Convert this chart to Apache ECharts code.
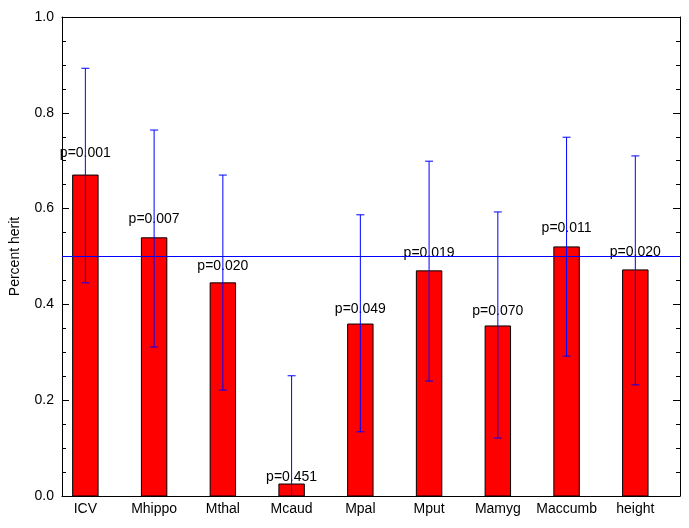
<!DOCTYPE html>
<html><head><meta charset="utf-8">
<script src="https://cdn.jsdelivr.net/npm/echarts@6/dist/echarts.min.js"></script>
<style>html,body{margin:0;background:#fff}#c{width:689px;height:528px}</style>
</head><body><div id="c"></div>
<script>
const categories=['ICV','Mhippo','Mthal','Mcaud','Mpal','Mput','Mamyg','Maccumb','height'];
const values=[0.670,0.539,0.445,0.025,0.359,0.470,0.355,0.520,0.472];
const errLow=[0.445,0.311,0.221,-0.2,0.134,0.240,0.121,0.292,0.232];
const errHigh=[0.893,0.764,0.670,0.251,0.587,0.699,0.593,0.749,0.710];
const pLabels=['p=0.001','p=0.007','p=0.020','p=0.451','p=0.049','p=0.019','p=0.070','p=0.011','p=0.020'];
const refLine=0.5;
const font='Liberation Sans';
const chart=echarts.init(document.getElementById('c'));
const axisBase={axisLine:{show:true,onZero:false,lineStyle:{color:'#000'}},splitLine:{show:false}};
const yTicks={inside:true,length:7,lineStyle:{color:'#000'}};
const yMinor={show:true,splitNumber:4,length:4,lineStyle:{color:'#000'}};
chart.setOption({
 animation:false,
 grid:{left:60,right:9,top:17,bottom:32},
 xAxis:[{type:'value',min:-0.34,max:8.65,...axisBase,axisTick:{show:false},axisLabel:{show:false}},
  {type:'value',position:'top',min:-0.34,max:8.65,...axisBase,axisTick:{show:false},axisLabel:{show:false}}],
 yAxis:[{type:'value',min:0,max:1,interval:0.2,...axisBase,
   name:'Percent herit',nameLocation:'middle',nameGap:40,nameTextStyle:{fontFamily:font,fontSize:14,color:'#000'},
   axisTick:yTicks,minorTick:yMinor,
   axisLabel:{fontFamily:font,fontSize:14,color:'#000',formatter:v=>v.toFixed(1)}},
  {type:'value',position:'right',min:0,max:1,interval:0.2,...axisBase,
   axisTick:yTicks,minorTick:yMinor,axisLabel:{show:false}}],
 series:[
  {type:'custom',clip:false,renderItem:(p,api)=>{
     const i=api.value(0),v=api.value(1);
     const a=api.coord([i-0.185,v]),b=api.coord([i+0.185,0]);
     const t=api.coord([i,v*1.05]);
     return {type:'group',children:[
      {type:'rect',shape:{x:a[0],y:a[1],width:b[0]-a[0],height:b[1]-a[1]},style:{fill:'#ff0000',stroke:'#000',lineWidth:1}},
      {type:'text',style:{x:t[0],y:t[1]+1,text:pLabels[i],fill:'#000',font:'14px '+font,textAlign:'center',textVerticalAlign:'bottom'}},
      {type:'text',style:{x:b[0]-(b[0]-a[0])/2,y:b[1]+6,text:categories[i],fill:'#000',font:'14px '+font,textAlign:'center',textVerticalAlign:'top'}}]};
   },data:values.map((v,i)=>[i,v]),z:2},
  {type:'custom',renderItem:(p,api)=>{
     const i=api.value(0);const lo=api.coord([i,Math.max(0,api.value(1))]),hi=api.coord([i,api.value(2)]);
     const ch=[{type:'line',shape:{x1:lo[0],y1:lo[1],x2:hi[0],y2:hi[1]},style:{stroke:'#0000ff',lineWidth:1}},
       {type:'line',shape:{x1:hi[0]-4,y1:hi[1],x2:hi[0]+4,y2:hi[1]},style:{stroke:'#0000ff',lineWidth:1}}];
     if(api.value(1)>=0)ch.push({type:'line',shape:{x1:lo[0]-4,y1:lo[1],x2:lo[0]+4,y2:lo[1]},style:{stroke:'#0000ff',lineWidth:1}});
     return {type:'group',children:ch};
   },data:errLow.map((l,i)=>[i,l,errHigh[i]]),z:3},
  {type:'line',data:[[-0.34,refLine],[8.65,refLine]],symbol:'none',lineStyle:{color:'#0000ff',width:1},z:4}
 ]
});
</script></body></html>
